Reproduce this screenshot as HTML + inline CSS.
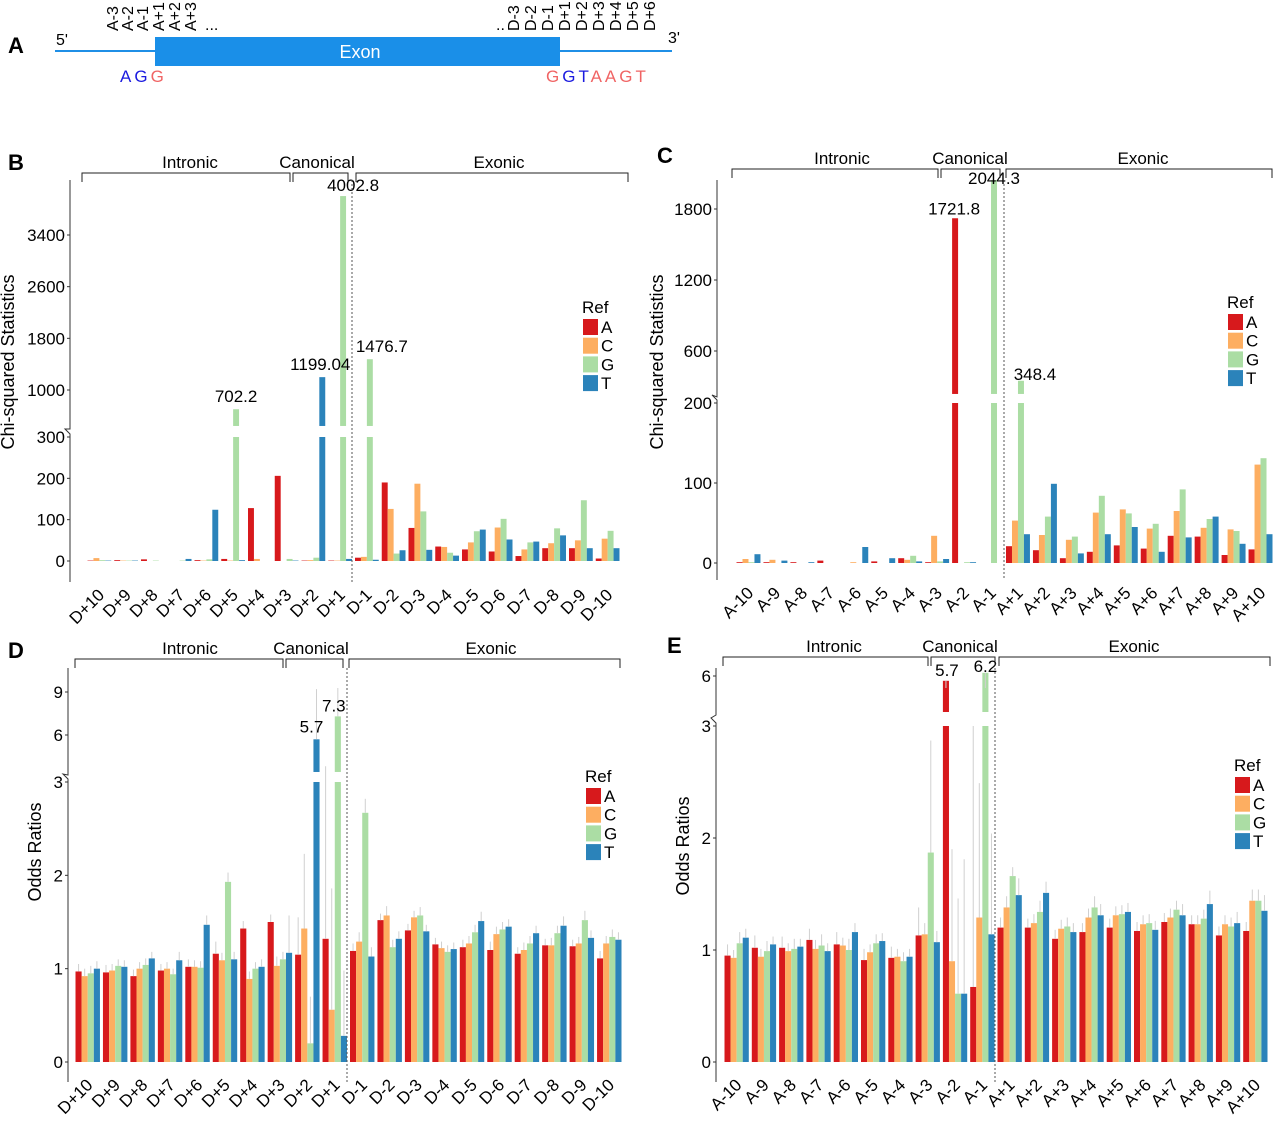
<!DOCTYPE html>
<html><head><meta charset="utf-8">
<style>
html,body{margin:0;padding:0;background:#fff;}
svg{display:block;font-family:"Liberation Sans",Arial,sans-serif;}
</style></head>
<body>
<svg id="fig" width="1280" height="1125" viewBox="0 0 1280 1125" xmlns="http://www.w3.org/2000/svg">
  <g>
    <text x="8" y="53" font-size="22" font-weight="bold">A</text>
    <line x1="55" y1="51" x2="672" y2="51" stroke="#1f8fe6" stroke-width="2"/>
    <rect x="155" y="37" width="405" height="29" fill="#1a8fe8"/>
    <text x="360" y="58" font-size="18" fill="#fff" text-anchor="middle">Exon</text>
    <text x="56" y="45" font-size="16">5'</text>
    <text x="668" y="43" font-size="16">3'</text>
    <g font-size="16">
      <text transform="translate(118,31) rotate(-90)">A-3</text>
      <text transform="translate(133,31) rotate(-90)">A-2</text>
      <text transform="translate(148,31) rotate(-90)">A-1</text>
      <text transform="translate(164,31) rotate(-90)">A+1</text>
      <text transform="translate(180,31) rotate(-90)">A+2</text>
      <text transform="translate(196,31) rotate(-90)">A+3</text>
      <text x="205" y="30">...</text>
      <text x="496" y="30">..</text>
      <text transform="translate(519,31) rotate(-90)">D-3</text>
      <text transform="translate(536,31) rotate(-90)">D-2</text>
      <text transform="translate(553,31) rotate(-90)">D-1</text>
      <text transform="translate(570,31) rotate(-90)">D+1</text>
      <text transform="translate(587,31) rotate(-90)">D+2</text>
      <text transform="translate(604,31) rotate(-90)">D+3</text>
      <text transform="translate(621,31) rotate(-90)">D+4</text>
      <text transform="translate(638,31) rotate(-90)">D+5</text>
      <text transform="translate(655,31) rotate(-90)">D+6</text>
    </g>
    <text x="120" y="82" font-size="17" letter-spacing="3"><tspan fill="#1a1adf">AG</tspan><tspan fill="#f06464">G</tspan></text>
    <text x="546" y="82" font-size="17" letter-spacing="3"><tspan fill="#f06464">G</tspan><tspan fill="#1a1adf">GT</tspan><tspan fill="#f06464">AAGT</tspan></text>
  </g>
  <g id="charts"></g>
</svg>
<script>
const bCats = ['D+10','D+9','D+8','D+7','D+6','D+5','D+4','D+3','D+2','D+1','D-1','D-2','D-3','D-4','D-5','D-6','D-7','D-8','D-9','D-10'];
const bA = [1,2,4,0,2,5,128,206,1,1,8,190,80,35,28,23,12,31,31,6];
const bC = [7,1,0,0,1,1,5,0,2,1,10,126,187,34,45,81,28,43,50,54];
const bG = [2,1,1,1,4,702.2,0,5,8,4002.8,1476.7,18,120,20,72,102,45,79,147,73];
const bT = [1,1,0,5,124,2,0,1,1199.04,5,3,26,27,13,76,52,47,62,31,31];
const bLowTicks = [0,100,200,300];
const bUpTicks = [1000,1800,2600,3400];

const cCats = ['A-10','A-9','A-8','A-7','A-6','A-5','A-4','A-3','A-2','A-1','A+1','A+2','A+3','A+4','A+5','A+6','A+7','A+8','A+9','A+10'];
const cA = [1,1,1,3,0,2,6,1,1721.8,0,21,16,6,14,22,18,34,33,10,17];
const cC = [5,4,0,0,1,0,4,34,0,0,53,35,29,63,67,43,65,44,42,123];
const cG = [1,0,0,0,0,0,9,2,1,2044.3,348.4,58,33,84,62,49,92,55,40,131];
const cT = [11,3,1,0,20,6,2,5,1,0,36,99,12,36,45,14,32,58,24,36];
const cLowTicks = [0,100,200];
const cUpTicks = [600,1200,1800];

const dCats = bCats.slice();
const dA = [0.97,0.96,0.92,0.98,1.02,1.16,1.43,1.50,1.15,1.32,1.19,1.52,1.41,1.26,1.23,1.20,1.16,1.25,1.24,1.11];
const dC = [0.92,0.98,1.00,1.00,1.02,1.09,0.89,1.03,1.43,0.56,1.29,1.57,1.55,1.22,1.27,1.37,1.20,1.25,1.27,1.27];
const dG = [0.95,1.03,1.04,0.94,1.01,1.93,1.00,1.10,0.20,7.3,2.67,1.23,1.57,1.18,1.39,1.42,1.27,1.38,1.52,1.34];
const dT = [1.00,1.02,1.11,1.09,1.47,1.10,1.02,1.17,5.7,0.28,1.13,1.32,1.40,1.21,1.51,1.45,1.38,1.46,1.33,1.31];
const dErrA = [0.08,0.08,0.07,0.07,0.08,0.13,0.08,0.08,0.4,2.5,0.08,0.07,0.07,0.07,0.08,0.09,0.07,0.07,0.07,0.08];
const dErrC = [0.08,0.07,0.07,0.07,0.07,0.08,0.08,0.10,0.8,1.3,0.10,0.10,0.07,0.07,0.08,0.08,0.08,0.08,0.07,0.08];
const dErrG = [0.08,0.07,0.07,0.06,0.07,0.10,0.07,0.08,0.5,2.0,0.15,0.08,0.09,0.07,0.08,0.08,0.08,0.08,0.10,0.08];
const dErrT = [0.08,0.07,0.07,0.09,0.10,0.08,0.08,0.40,3.5,0.7,0.10,0.08,0.07,0.07,0.10,0.08,0.08,0.10,0.08,0.08];
const dLowTicks = [0,1,2,3];
const dUpTicks = [6,9];

const eCats = cCats.slice();
const eA = [0.95,1.02,1.02,1.09,1.05,0.91,0.93,1.13,5.7,0.67,1.20,1.20,1.10,1.16,1.20,1.17,1.25,1.23,1.13,1.17];
const eC = [0.93,0.94,0.99,1.01,1.04,0.98,0.94,1.14,0.90,1.29,1.38,1.24,1.19,1.29,1.31,1.23,1.29,1.23,1.23,1.44];
const eG = [1.06,0.99,1.01,1.04,1.00,1.06,0.90,1.87,0.61,6.2,1.66,1.34,1.21,1.38,1.32,1.24,1.36,1.28,1.21,1.44];
const eT = [1.11,1.05,1.03,0.99,1.16,1.08,0.94,1.07,0.61,1.14,1.49,1.51,1.16,1.31,1.34,1.18,1.31,1.41,1.24,1.35];
const eErrA = [0.10,0.11,0.10,0.10,0.11,0.10,0.10,0.25,3.0,2.5,0.09,0.08,0.08,0.08,0.08,0.08,0.08,0.08,0.08,0.08];
const eErrC = [0.07,0.07,0.07,0.08,0.07,0.07,0.07,0.10,1.0,1.2,0.10,0.08,0.08,0.08,0.08,0.08,0.08,0.08,0.08,0.10];
const eErrG = [0.10,0.09,0.09,0.10,0.10,0.08,0.08,1.0,0.85,2.0,0.08,0.10,0.08,0.10,0.08,0.08,0.08,0.08,0.08,0.10];
const eErrT = [0.08,0.07,0.07,0.07,0.08,0.07,0.07,0.10,1.2,0.9,0.15,0.10,0.08,0.10,0.08,0.08,0.10,0.12,0.10,0.14];
const eLowTicks = [0,1,2,3];
const eUpTicks = [6];

const COLORS = ['#d7191c','#fdae61','#abdda4','#2b83ba'];
const SER = ['A','C','G','T'];
const NS = 'http://www.w3.org/2000/svg';
const root = document.getElementById('charts');

function mk(tag, attrs, parent) {
  const el = document.createElementNS(NS, tag);
  for (const k in attrs) el.setAttribute(k, attrs[k]);
  (parent || root).appendChild(el);
  return el;
}

function makeScale(P) {
  const L = P.lower, U = P.upper;
  const su = (U.yb - U.ya) / (U.vb - U.va);
  const yl = v => L.y0 + (v - L.v0) * (L.y1 - L.y0) / (L.v1 - L.v0);
  const yu = v => U.ya + (v - U.va) * su;
  return {yl, yu, yUmin: yu(U.vmin), y: v => v <= L.v1 ? yl(v) : yu(v)};
}

function panel(P) {
  const g = mk('g', {});
  
  
  const S = makeScale(P);
  const bw = (P.W - 3) / 4;
  P.series.forEach((arr, s) => {
    arr.forEach((v, i) => {
      const x = P.x0 + i * P.W + 1.5 + s * bw;
      const y0 = S.yl(0);
      if (v <= P.lower.v1) {
        const r = mk('rect', {x: x, y: S.yl(v), width: bw, height: Math.max(0, y0 - S.yl(v)), fill: COLORS[s]}, g);
        
        
      } else {
        const r1 = mk('rect', {x: x, y: P.lower.y1, width: bw, height: y0 - P.lower.y1, fill: COLORS[s]}, g);
        
        
        const yt = S.yu(v);
        const r2 = mk('rect', {x: x, y: yt, width: bw, height: Math.max(0, S.yUmin - yt), fill: COLORS[s]}, g);
        
        
      }
      if (P.err) {
        const e = P.err[s][i];
        const cx = x + bw / 2;
        let yTop = S.y(v + e);
        if (v <= P.lower.v1 && v + e > P.lower.v1 && v + e < P.upper.vmin) yTop = P.lower.y1;
        yTop = Math.max(yTop, P.axisTop + 20);
        const l = mk('line', {x1: cx, x2: cx, y1: S.y(v), y2: yTop, stroke: '#d0d0d0', 'stroke-width': 1}, g);
        
        
      }
    });
  });
  P.labels.forEach(([i, s, dx, dy]) => {
    const v = P.series[s][i];
    const x = P.x0 + i * P.W + 1.5 + s * bw + bw / 2 + dx;
    const t = mk('text', {x: x, y: S.y(v) - 7 + (dy || 0), 'font-size': 17, 'text-anchor': 'middle'}, g);
    t.textContent = String(v);
    
    
  });
  const dl = mk('line', {x1: P.dotX, x2: P.dotX, y1: P.axisTop, y2: P.axisBottom, stroke: '#555', 'stroke-width': 1, 'stroke-dasharray': '2,2'}, g);
  
  
  const ax = P.axisX;
  const zz = `M${ax},${P.axisBottom} L${ax},${P.lower.y1 - 3} L${ax - 5},${P.lower.y1 - 8} L${ax},${S.yUmin + 3} L${ax},${P.axisTop}`;
  const axis = mk('path', {d: zz, fill: 'none', stroke: '#333', 'stroke-width': 1}, g);
  
  
  const tickFn = (v, yv) => {
    mk('line', {x1: ax - 3, x2: ax, y1: yv, y2: yv, stroke: '#333'}, g);
    const t = mk('text', {x: ax - 5, y: yv + 6, 'font-size': 17, 'text-anchor': 'end'}, g);
    t.textContent = String(v);
    
    
  };
  P.lowTicks.forEach(v => tickFn(v, S.yl(v)));
  P.upTicks.forEach(v => tickFn(v, S.yu(v)));
  P.cats.forEach((c, i) => {
    const cx = P.x0 + i * P.W + P.W / 2 + 6;
    const t = mk('text', {transform: `translate(${cx},${P.labelY}) rotate(-45)`, 'font-size': 17, 'text-anchor': 'end'}, g);
    t.textContent = c;
    
    
  });
  const yt = mk('text', {transform: `translate(${P.titleX},${P.titleY}) rotate(-90)`, 'font-size': 18, 'text-anchor': 'middle'}, g);
  yt.textContent = P.title;
  
  
  const lg = mk('g', {}, g);
  
  
  const rt = mk('text', {x: P.legX - 1, y: P.legY, 'font-size': 17}, lg);
  rt.textContent = 'Ref';
  SER.forEach((s, k) => {
    const yy = P.legY + 6 + k * 18.7;
    const r = mk('rect', {x: P.legX, y: yy, width: 15, height: 16, fill: COLORS[k]}, lg);
    
    
    const t = mk('text', {x: P.legX + 18, y: yy + 14, 'font-size': 17}, lg);
    t.textContent = s;
    
    
  });
  P.brackets.forEach(([x1, x2, label, lx]) => {
    const y = P.brY;
    const p = mk('path', {d: `M${x1},${y + 9} L${x1},${y} L${x2},${y} L${x2},${y + 9}`, fill: 'none', stroke: '#222', 'stroke-width': 1}, g);
    
    
    const t = mk('text', {x: lx, y: y - 5, 'font-size': 17, 'text-anchor': 'middle'}, g);
    t.textContent = label;
    
    
  });
  const pl = mk('text', {x: P.letter[1], y: P.letter[2], 'font-size': 22, 'font-weight': 'bold'}, g);
  pl.textContent = P.letter[0];
  
  
}

panel({name: 'panel-b-chart', cats: bCats, series: [bA, bC, bG, bT], x0: 86, W: 26.75,
  axisX: 70, axisTop: 180, axisBottom: 582, dotX: 352, labelY: 596,
  lower: {v0: 0, v1: 300, y0: 561, y1: 437}, upper: {va: 1000, ya: 390, vb: 3400, yb: 235, vmin: 443},
  lowTicks: bLowTicks, upTicks: bUpTicks, labels: [[5, 2, 0], [8, 3, -2], [9, 2, 10, 2], [10, 2, 12]],
  title: 'Chi-squared Statistics', titleX: 14, titleY: 362, legX: 583, legY: 313, brY: 173,
  brackets: [[82, 290, 'Intronic', 190], [293, 348, 'Canonical', 317], [356, 628, 'Exonic', 499]],
  letter: ['B', 8, 170]});

panel({name: 'panel-c-chart', cats: cCats, series: [cA, cC, cG, cT], x0: 735, W: 26.95,
  axisX: 717, axisTop: 180, axisBottom: 580, dotX: 1004, labelY: 594,
  lower: {v0: 0, v1: 200, y0: 563, y1: 403}, upper: {va: 600, ya: 351, vb: 1800, yb: 209, vmin: 237},
  lowTicks: cLowTicks, upTicks: cUpTicks, labels: [[8, 0, -1, 3], [9, 2, 0, 11], [10, 2, 14, 6]],
  title: 'Chi-squared Statistics', titleX: 663, titleY: 362, legX: 1228, legY: 308, brY: 169,
  brackets: [[732, 938, 'Intronic', 842], [941, 1000, 'Canonical', 970], [1006, 1272, 'Exonic', 1143]],
  letter: ['C', 657, 163]});

panel({name: 'panel-d-chart', cats: dCats, series: [dA, dC, dG, dT], err: [dErrA, dErrC, dErrG, dErrT], x0: 74, W: 27.45,
  axisX: 68, axisTop: 668, axisBottom: 1082, dotX: 347, labelY: 1086,
  lower: {v0: 0, v1: 3, y0: 1062, y1: 782}, upper: {va: 6, ya: 735, vb: 9, yb: 692, vmin: 3.42},
  lowTicks: dLowTicks, upTicks: dUpTicks, labels: [[8, 3, -5], [9, 2, -4, 2]],
  title: 'Odds Ratios', titleX: 41, titleY: 852, legX: 586, legY: 782, brY: 659,
  brackets: [[75, 283, 'Intronic', 190], [286, 343, 'Canonical', 311], [349, 620, 'Exonic', 491]],
  letter: ['D', 8, 658]});

panel({name: 'panel-e-chart', cats: eCats, series: [eA, eC, eG, eT], err: [eErrA, eErrC, eErrG, eErrT], x0: 723, W: 27.3,
  axisX: 716, axisTop: 668, axisBottom: 1082, dotX: 995, labelY: 1086,
  lower: {v0: 0, v1: 3, y0: 1062, y1: 726}, upper: {va: 6, ya: 676, vb: 7, yb: 660, vmin: 3.75},
  lowTicks: eLowTicks, upTicks: eUpTicks, labels: [[8, 0, 1, 2], [9, 2, 0, 6]],
  title: 'Odds Ratios', titleX: 689, titleY: 846, legX: 1235, legY: 771, brY: 657,
  brackets: [[723, 928, 'Intronic', 834], [931, 995, 'Canonical', 960], [999, 1270, 'Exonic', 1134]],
  letter: ['E', 667, 653]});
</script>
</body></html>
